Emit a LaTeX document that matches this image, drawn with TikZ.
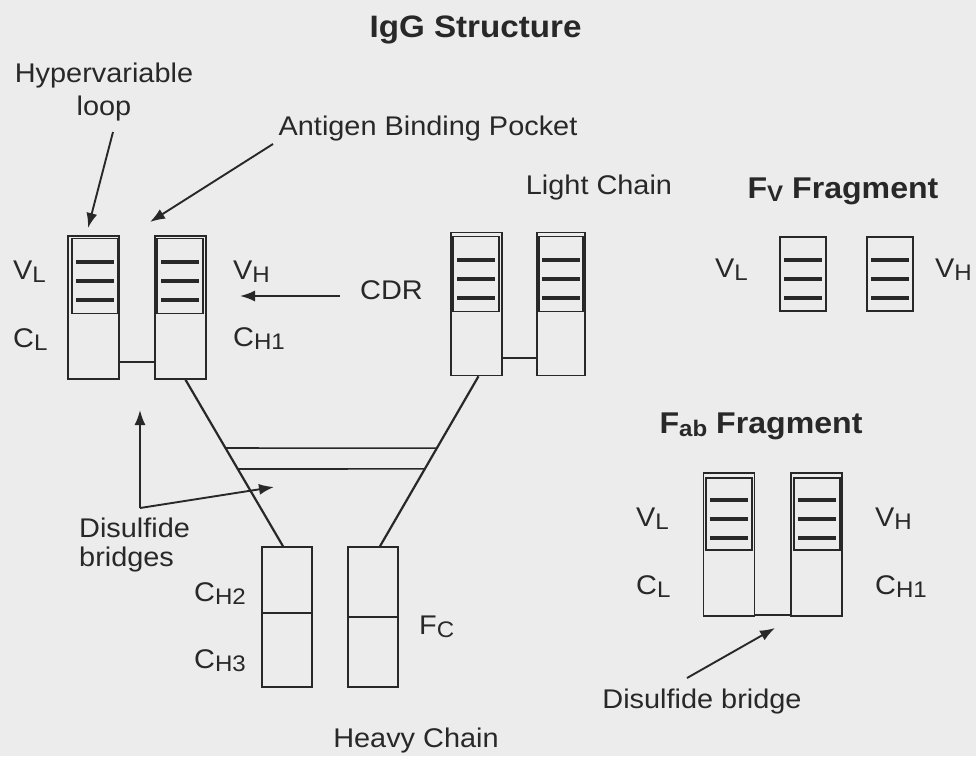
\documentclass[tikz,border=0pt]{standalone}
\usepackage{fontspec}
\setmainfont{Liberation Sans}[FakeStretch=1.07]
\usetikzlibrary{arrows.meta}
\definecolor{bgcol}{RGB}{236,236,236}
\definecolor{ink}{RGB}{40,40,40}
\newcommand{\lsub}[1]{\raisebox{-3pt}{\fontsize{22.5}{22.5}\selectfont #1}}
\newcommand{\cdrbars}[1]{\foreach \d in {-14,5,24} \draw[bar] ([shift={(-19,\d)}]#1.center) -- ([shift={(19,\d)}]#1.center);}
\tikzset{
  chainbox/.style={draw=ink, line width=1.5pt, minimum width=51pt, minimum height=143pt, inner sep=0pt},
  vbox/.style={draw=ink, line width=1.7pt, minimum width=46pt, minimum height=75pt, inner sep=0pt},
  fcbox/.style={chainbox, minimum width=50pt, minimum height=140pt},
  bar/.style={ink, line width=4.5pt},
  lbl/.style={text=ink, inner sep=0pt, font=\fontsize{27}{33}\selectfont},
  ttl/.style={text=ink, inner sep=0pt, font=\bfseries\fontsize{30}{34}\selectfont},
  arr/.style={ink, line width=1.9pt, -{Latex[length=15pt,width=11pt]}},
  link/.style={ink, line width=1.6pt},
}
\begin{document}
\begin{tikzpicture}[x=1pt, y=-1pt]
\fill[bgcol] (0,0) rectangle (976,756);
\useasboundingbox (0,0) rectangle (976,756);
\node[ttl, anchor=base, font=\bfseries\fontsize{31}{34}\selectfont] (igg) at (475.5,37) {IgG Structure};
\node[ttl, anchor=base] (fvt) at (843,198) {F\lsub{V} Fragment};
\node[ttl, anchor=base] (fabt) at (761,433) {F\lsub{ab} Fragment};
\node (L1) [chainbox] at (93.5,307.5) {};
\node (H1) [chainbox] at (180.5,307.5) {};
\node (L1v) [vbox] at (95,276) {};
\node (H1v) [vbox] at (180,276) {};
\node (L2) [chainbox] at (476.5,304) {};
\node (H2) [chainbox, minimum width=48pt] at (561,304) {};
\node (L2v) [vbox] at (476,274) {};
\node (H2v) [vbox, minimum width=44pt] at (561,274) {};
\node (F1) [fcbox] at (287,617) {};
\node (F2) [fcbox] at (373,617) {};
\node (fabL) [chainbox] at (729,544.5) {};
\node (fabH) [chainbox] at (816.5,544.5) {};
\node (fabLv) [vbox, minimum height=72pt] at (729,514) {};
\node (fabHv) [vbox, minimum height=72pt] at (817,514) {};
\node (fvL) [vbox, minimum height=74pt] at (803,274) {};
\node (fvH) [vbox, minimum height=74pt] at (890,274) {};
\cdrbars{L1v}
\cdrbars{H1v}
\cdrbars{L2v}
\cdrbars{H2v}
\cdrbars{fabLv}
\cdrbars{fabHv}
\cdrbars{fvL}
\cdrbars{fvH}
\draw[link] ([yshift=18pt]L1.south east) -- ([yshift=18pt]H1.south west);
\draw[link] ([yshift=18.5pt]L2.south east) -- ([yshift=18.5pt]H2.south west);
\draw[link] ([yshift=2pt]fabL.south east) -- ([yshift=2pt]fabH.south west);
\draw[link] ([yshift=4pt]F1.west) -- ([yshift=4pt]F1.east);
\draw[link] (F2.west) -- (F2.east);
\draw[ink, line width=2.2pt] ([xshift=5pt]H1.south) -- coordinate[pos=.41] (hl1) coordinate[pos=.536] (hl2) ([xshift=-4pt]F1.north);
\draw[ink, line width=2.2pt] ([xshift=2pt]L2.south) -- coordinate[pos=.423] (hr1) coordinate[pos=.545] (hr2) ([xshift=7pt]F2.north);
\draw[link] (hl1) -- (hr1);
\draw[link] (hl2) -- (hr2);
\node[lbl, anchor=base, align=center] (hyper) at (104,115) {Hypervariable\\loop};
\node[lbl, anchor=base] (pocket) at (428,135) {Antigen Binding Pocket};
\node[lbl, anchor=base] (light) at (599,194) {Light Chain};
\node[lbl, anchor=base west] (cdr) at (360,299) {CDR};
\node[lbl, anchor=base west] (vl) at (13,279) {V\lsub{L}};
\node[lbl, anchor=base west] (cl) at (13,347) {C\lsub{L}};
\node[lbl, anchor=base west] (vh) at (233,279) {V\lsub{H}};
\node[lbl, anchor=base west] (ch1) at (233,346) {C\lsub{H1}};
\node[lbl, anchor=base west] (ch2) at (194,601) {C\lsub{H2}};
\node[lbl, anchor=base west] (ch3) at (194,668) {C\lsub{H3}};
\node[lbl, anchor=base west] (fc) at (419,634) {F\lsub{C}};
\node[lbl, anchor=base] (heavy) at (416,747) {Heavy Chain};
\node[lbl, anchor=base west, align=left, font=\fontsize{27}{29}\selectfont] (bridges) at (79,566) {Disulfide\\bridges};
\node[lbl, anchor=base west] (fvl) at (715,277) {V\lsub{L}};
\node[lbl, anchor=base west] (fvh) at (935,277) {V\lsub{H}};
\node[lbl, anchor=base west] (fabvl) at (636,526) {V\lsub{L}};
\node[lbl, anchor=base west] (fabcl) at (636,594) {C\lsub{L}};
\node[lbl, anchor=base west] (fabvh) at (875,526) {V\lsub{H}};
\node[lbl, anchor=base west] (fabch1) at (875,594) {C\lsub{H1}};
\node[lbl, anchor=base] (bridge) at (702,708) {Disulfide bridge};
\coordinate (hyp0) at (113,132);
\coordinate (hyp1) at (88,228);
\coordinate (poc0) at (273,144);
\coordinate (poc1) at (150,222);
\coordinate (cdr0) at (340,296);
\coordinate (cdr1) at (240,296);
\coordinate (ds0) at (140,508);
\coordinate (ds1) at (140,410);
\coordinate (ds2) at (274,487);
\coordinate (fab0) at (687,678);
\coordinate (fab1) at (775,628);
\draw[arr] (hyp0) -- (hyp1);
\draw[arr] (poc0) -- (poc1);
\draw[arr] (cdr0) -- (cdr1);
\draw[arr] (ds0) -- (ds1);
\draw[arr] (ds0) -- (ds2);
\draw[arr] (fab0) -- (fab1);
\end{tikzpicture}
\end{document}
